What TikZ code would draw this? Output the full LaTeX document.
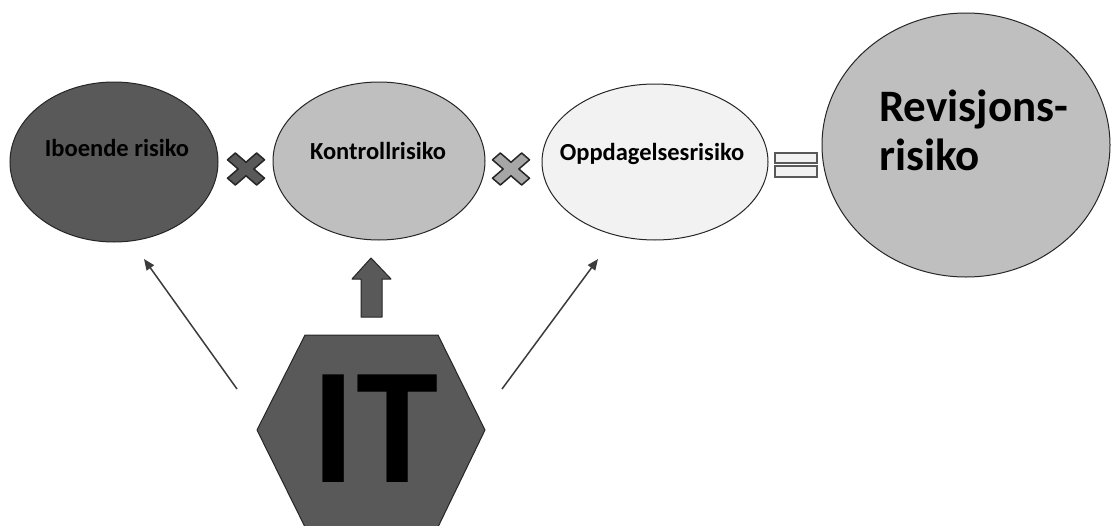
\documentclass[tikz,border=0pt]{standalone}
\usepackage{fontspec}
\setmainfont{Carlito}
\usetikzlibrary{shapes.geometric,arrows.meta}
\definecolor{cdark}{HTML}{595959}
\definecolor{cmid}{HTML}{A6A6A6}
\definecolor{clight}{HTML}{BFBFBF}
\definecolor{cpale}{HTML}{F2F2F2}
\definecolor{cline}{HTML}{262626}
\definecolor{cthin}{HTML}{3C3C3C}
\tikzset{
  ell/.style={ellipse, draw=cline, line width=1pt, inner sep=0pt},
  lbl/.style={font=\bfseries\fontsize{24.5}{29}\selectfont, text=black, inner sep=0pt, anchor=base},
  biglbl/.style={font=\bfseries\fontsize{45}{50}\selectfont, text=black, inner sep=0pt, anchor=base west},
  itlbl/.style={font=\bfseries\fontsize{166}{170}\selectfont, text=black, inner sep=0pt, anchor=base},
  thinarrow/.style={draw=cthin, line width=1.5pt, -{Triangle[length=11pt,width=9pt]}},
  shapeline/.style={draw=cline, line width=1pt, line join=round},
  eqbar/.style={draw=cdark, fill=cpale, line width=1.6pt},
  xmark/.pic={
    \path[pic actions] (0,0.424) -- (0.576,1) -- (1,0.576) -- (0.424,0) -- (1,-0.576) -- (0.576,-1)
      -- (0,-0.424) -- (-0.576,-1) -- (-1,-0.576) -- (-0.424,0) -- (-1,0.576) -- (-0.576,1) -- cycle;
  }
}
\begin{document}
\begin{tikzpicture}[x=1pt,y=-1pt]
\useasboundingbox (0,0) rectangle (1111,525);
\clip (0,0) rectangle (1111,525);
\fill[white] (0,0) rectangle (1111,525);

% ellipses
\node[ell, fill=cdark, minimum width=208pt, minimum height=160pt] (ibo) at (114,162) {};
\node[ell, fill=clight, minimum width=212pt, minimum height=158pt] (kon) at (379,161) {};
\node[ell, fill=cpale, minimum width=226pt, minimum height=156pt] (opp) at (655,162) {};
\node[ell, fill=clight, minimum width=288pt, minimum height=264pt] (rev) at (966,145) {};

\node[lbl] (ibotxt) at (117,156) {Iboende risiko};
\node[lbl] (kontxt) at (378,159) {Kontrollrisiko};
\node[lbl] (opptxt) at (652,160) {Oppdagelsesrisiko};
\node[biglbl] (revtxt1) at (879,121) {Revisjons-};
\node[biglbl] (revtxt2) at (879,170) {risiko};

% multiply signs
\pic[draw=cline, fill=cdark, line width=1.5pt, line join=round, xscale=18.5, yscale=16] at (246,169) {xmark};
\pic[draw=cline, fill=cmid, line width=1.5pt, line join=round, xscale=18.5, yscale=16] at (511,169) {xmark};

% equals sign
\draw[eqbar] (775,153) rectangle (817,163);
\draw[eqbar] (775,166) rectangle (817,177);

% hexagon
\path[shapeline, fill=cdark] (305,335) -- (438,335) -- (485,430) -- (438,527) -- (305,527) -- (257,430) -- cycle;
\node[itlbl] (it) at (375,482) {IT};

% thick up arrow
\path[shapeline, fill=cdark] (361,317) -- (361,279) -- (352,279) -- (371,258) -- (391,279) -- (382,279) -- (382,317) -- cycle;

% thin arrows
\coordinate (ltail) at (237,389);
\coordinate (lhead) at (144,259);
\coordinate (rtail) at (502,389);
\coordinate (rhead) at (598,259);
\draw[thinarrow] (ltail) -- (lhead);
\draw[thinarrow] (rtail) -- (rhead);
\end{tikzpicture}
\end{document}
